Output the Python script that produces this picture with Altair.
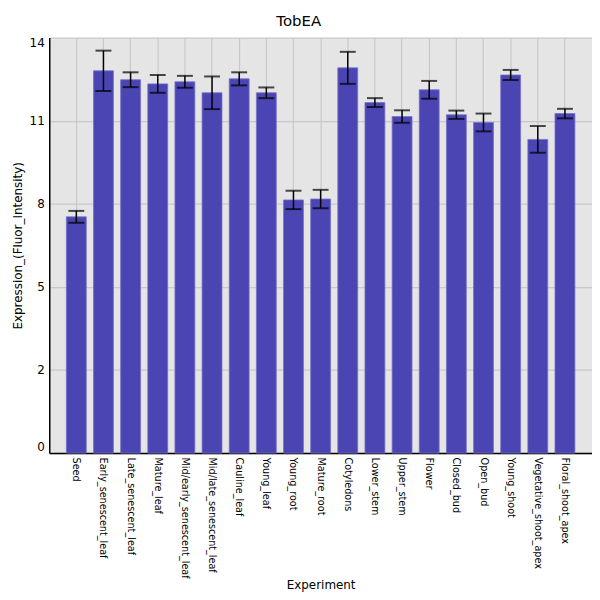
import altair as alt
import pandas as pd

categories = ["Seed", "Early_senescent_leaf", "Late_senescent_leaf", "Mature_leaf",
              "Mid/early_senescent_leaf", "Mid/late_senescent_leaf", "Cauline_leaf",
              "Young_leaf", "Young_root", "Mature_root", "Cotyledons", "Lower_stem",
              "Upper_stem", "Flower", "Closed_bud", "Open_bud", "Young_shoot",
              "Vegetative_shoot_apex", "Floral_shoot_apex"]
values = [7.96, 12.88, 12.58, 12.44, 12.51, 12.14, 12.61, 12.14, 8.53, 8.56,
          12.98, 11.81, 11.34, 12.24, 11.40, 11.14, 12.74, 10.57, 11.44]
errors = [0.20, 0.68, 0.25, 0.30, 0.20, 0.55, 0.22, 0.18, 0.31, 0.31,
          0.54, 0.15, 0.21, 0.30, 0.14, 0.30, 0.17, 0.45, 0.16]
y_ticks = [0, 2.8, 5.6, 8.4, 11.2, 14]

df = pd.DataFrame({"Experiment": categories, "value": values, "err": errors})
df["lo"] = df["value"] - df["err"]
df["hi"] = df["value"] + df["err"]

FONT = "DejaVu Sans"

x = alt.X("Experiment:N", sort=categories, title="Experiment",
          scale=alt.Scale(paddingInner=0.267, paddingOuter=0.63),
          axis=alt.Axis(labelAngle=90, labelFontSize=9.7, labelPadding=4, ticks=False,
                        grid=True, gridColor="#C8C8C8", gridWidth=1.2,
                        domainColor="black", domainWidth=1.5,
                        titleFontSize=12, titleFontWeight="normal", titlePadding=1,
                        labelColor="black", titleColor="black"))
yscale = alt.Scale(domain=[0, 14], nice=False, zero=True)
yaxis = alt.Axis(values=y_ticks, labelExpr="floor(datum.value)", labelFlush=True,
                 ticks=False, labelPadding=5, labelFontSize=12, grid=True,
                 gridColor="#C8C8C8", gridWidth=1.2, domainColor="black", domainWidth=1.5,
                 titleFontSize=12, titleFontWeight="normal", titlePadding=5,
                 labelColor="black", titleColor="black")

base = alt.Chart(df)
bars = base.mark_bar(color="#4B45B3", stroke="#7772C6", strokeWidth=0.8).encode(
    x=x, y=alt.Y("value:Q", scale=yscale, axis=yaxis, title="Expression_(Fluor_Intensity)"))
rules = base.mark_rule(color="black", strokeWidth=1.5).encode(
    x=alt.X("Experiment:N", sort=categories), y="lo:Q", y2="hi:Q")
caps_lo = base.mark_tick(color="black", size=16, thickness=2).encode(
    x=alt.X("Experiment:N", sort=categories), y="lo:Q")
caps_hi = base.mark_tick(color="black", size=16, thickness=2).encode(
    x=alt.X("Experiment:N", sort=categories), y="hi:Q")

chart = alt.layer(bars, rules, caps_lo, caps_hi).properties(
    width=546, height=418,
    title=alt.TitleParams("TobEA", fontSize=15, fontWeight="normal", font=FONT,
                          color="black", offset=8, dx=-22),
    autosize=alt.AutoSizeParams(type="none"),
    padding={"left": 41.5, "top": 28, "right": 0, "bottom": 142},
).configure(font=FONT, background="white").configure_view(
    fill="#E5E5E5", stroke="transparent"
).configure_axis(labelFont=FONT, titleFont=FONT)

chart.save("out.html", embed_options={"renderer": "svg", "actions": False})
